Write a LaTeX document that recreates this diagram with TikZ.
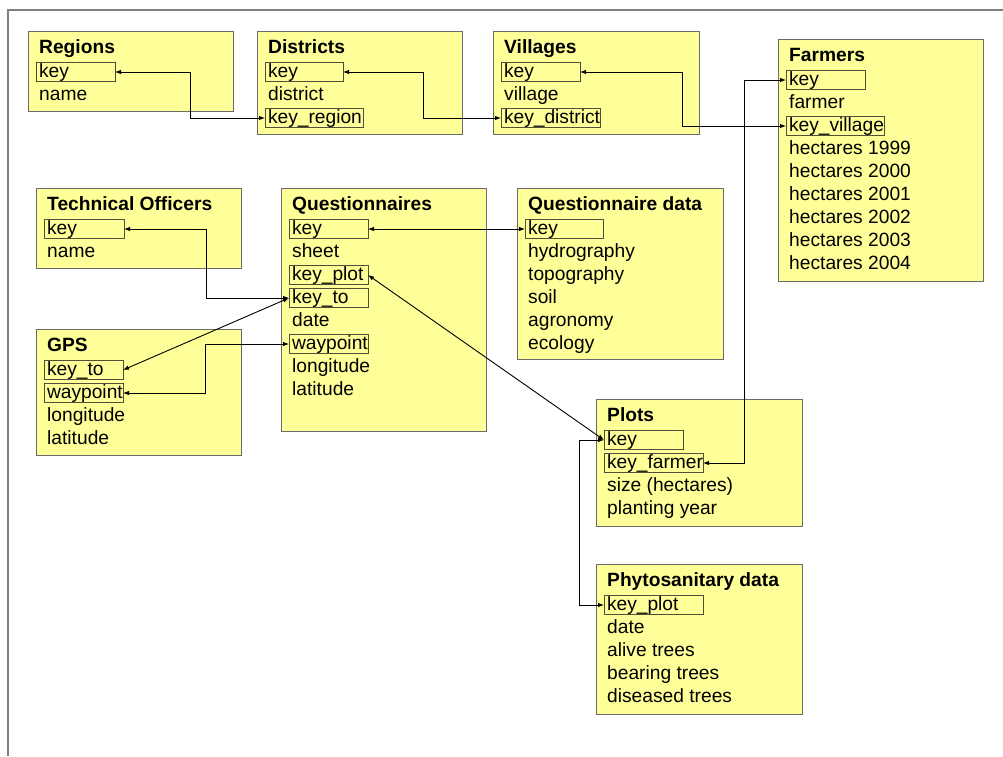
\documentclass[tikz,border=0pt]{standalone}
\usepackage{fontspec}
\setmainfont{Liberation Sans}
\usetikzlibrary{arrows.meta}
\definecolor{tblfill}{HTML}{FFFF99}
\definecolor{tblborder}{HTML}{6A6A6A}
\definecolor{keyborder}{HTML}{50503A}
\definecolor{framegray}{HTML}{808080}
\newcommand{\kb}[2]{\makebox[#1][l]{#2}}
\begin{document}
\begin{tikzpicture}[x=1pt,y=-1pt,
  tbl/.style={draw=tblborder, fill=tblfill, line width=1pt, anchor=north west, inner sep=0pt, outer sep=0pt},
  row/.style={anchor=west, inner xsep=3pt, inner ysep=0pt, text height=13.5pt, text depth=3.5pt, font=\fontsize{19.2}{23}\selectfont},
  ttl/.style={row, font=\fontsize{19.2}{23}\selectfont\bfseries},
  keyf/.style={row, draw=keyborder, line width=0.8pt, minimum height=19.5pt, outer sep=0pt},
  conn/.style={line width=0.9pt, black, {Latex[length=6pt,width=4.5pt]}-{Latex[length=6pt,width=4.5pt]}},
  frame/.style={draw=framegray, line width=1.2pt}
]
\useasboundingbox (0,0) rectangle (1003,756);
\fill[white] (0,0) rectangle (1003,756);
\draw[frame] (8,756) -- (8,10) -- (1003,10);

% Regions
\node[tbl, minimum width=205pt, minimum height=80pt] (regions) at (28,31) {};
\node[ttl] (regT) at (36,48) {Regions};
\node[keyf] (rk) at (36,72) {\kb{73pt}{key}};
\node[row] (rname) at (36,95) {name};

% Districts
\node[tbl, minimum width=205pt, minimum height=103pt] (districts) at (257,31) {};
\node[ttl] (disT) at (265,48) {Districts};
\node[keyf] (dk) at (265,72) {\kb{72pt}{key}};
\node[row] (ddist) at (265,95) {district};
\node[keyf] (dkr) at (265,118) {\kb{92pt}{key\_region}};

% Villages
\node[tbl, minimum width=206pt, minimum height=103pt] (villages) at (493,31) {};
\node[ttl] (vilT) at (501,48) {Villages};
\node[keyf] (vk) at (501,72) {\kb{73pt}{key}};
\node[row] (vvil) at (501,95) {village};
\node[keyf] (vkd) at (501,118) {\kb{93pt}{key\_district}};

% Farmers
\node[tbl, minimum width=205pt, minimum height=242pt] (farmers) at (778,39) {};
\node[ttl] (farT) at (786,56) {Farmers};
\node[keyf] (fk) at (786,80) {\kb{73pt}{key}};
\node[row] (ffar) at (786,103) {farmer};
\node[keyf] (fkv) at (786,126) {\kb{92pt}{key\_village}};
\node[row] (fh99) at (786,149) {hectares 1999};
\node[row] (fh00) at (786,172) {hectares 2000};
\node[row] (fh01) at (786,195) {hectares 2001};
\node[row] (fh02) at (786,218) {hectares 2002};
\node[row] (fh03) at (786,241) {hectares 2003};
\node[row] (fh04) at (786,264) {hectares 2004};

% Technical Officers
\node[tbl, minimum width=205pt, minimum height=80pt] (techoff) at (36,188) {};
\node[ttl] (toT) at (44,205) {Technical Officers};
\node[keyf] (tk) at (44,229) {\kb{74pt}{key}};
\node[row] (tname) at (44,252) {name};

% Questionnaires
\node[tbl, minimum width=205pt, minimum height=243pt] (quest) at (281,188) {};
\node[ttl] (qT) at (289,205) {Questionnaires};
\node[keyf] (qk) at (289,229) {\kb{73pt}{key}};
\node[row] (qsheet) at (289,252) {sheet};
\node[keyf] (qkp) at (289,275) {\kb{73pt}{key\_plot}};
\node[keyf] (qkt) at (289,298) {\kb{73pt}{key\_to}};
\node[row] (qdate) at (289,321) {date};
\node[keyf] (qw) at (289,344) {\kb{73pt}{waypoint}};
\node[row] (qlon) at (289,367) {longitude};
\node[row] (qlat) at (289,390) {latitude};

% Questionnaire data
\node[tbl, minimum width=206pt, minimum height=171pt] (qdata) at (517,188) {};
\node[ttl] (qdT) at (525,205) {Questionnaire data};
\node[keyf] (qdk) at (525,229) {\kb{72pt}{key}};
\node[row] (qdh) at (525,252) {hydrography};
\node[row] (qdt) at (525,275) {topography};
\node[row] (qds) at (525,298) {soil};
\node[row] (qda) at (525,321) {agronomy};
\node[row] (qde) at (525,344) {ecology};

% GPS
\node[tbl, minimum width=205pt, minimum height=126pt] (gps) at (36,329) {};
\node[ttl] (gT) at (44,346) {GPS};
\node[keyf] (gkt) at (44,370) {\kb{73pt}{key\_to}};
\node[keyf] (gw) at (44,393) {\kb{73pt}{waypoint}};
\node[row] (glon) at (44,416) {longitude};
\node[row] (glat) at (44,439) {latitude};

% Plots
\node[tbl, minimum width=206pt, minimum height=127pt] (plots) at (596,399) {};
\node[ttl] (pT) at (604,416) {Plots};
\node[keyf] (pk) at (604,440) {\kb{73pt}{key}};
\node[keyf] (pkf) at (604,463) {\kb{93pt}{key\_farmer}};
\node[row] (psize) at (604,486) {size (hectares)};
\node[row] (pyear) at (604,509) {planting year};

% Phytosanitary data
\node[tbl, minimum width=206pt, minimum height=150pt] (phyto) at (596,564) {};
\node[ttl] (phT) at (604,581) {Phytosanitary data};
\node[keyf] (phk) at (604,605) {\kb{93pt}{key\_plot}};
\node[row] (phdate) at (604,628) {date};
\node[row] (phalive) at (604,651) {alive trees};
\node[row] (phbear) at (604,674) {bearing trees};
\node[row] (phdis) at (604,697) {diseased trees};

% Connectors
\draw[conn] (rk.east) -- ++(75,0) |- (dkr.west);
\draw[conn] (dk.east) -- ++(80,0) |- (vkd.west);
\draw[conn] (vk.east) -- ++(102,0) |- (fkv.west);
\draw[conn] (fk.west) -- ++(-42,0) |- (pkf.east);
\draw[conn] (qk.east) -- (qdk.west);
\draw[conn] (tk.east) -- ++(82,0) |- (qkt.west);
\draw[conn] (gkt.east) -- (qkt.west);
\draw[conn] (gw.east) -- ++(82,0) |- (qw.west);
\draw[conn] (qkp.east) -- (pk.west);
\draw[conn] (pk.west) -- ++(-25,0) |- (phk.west);
\end{tikzpicture}
\end{document}
